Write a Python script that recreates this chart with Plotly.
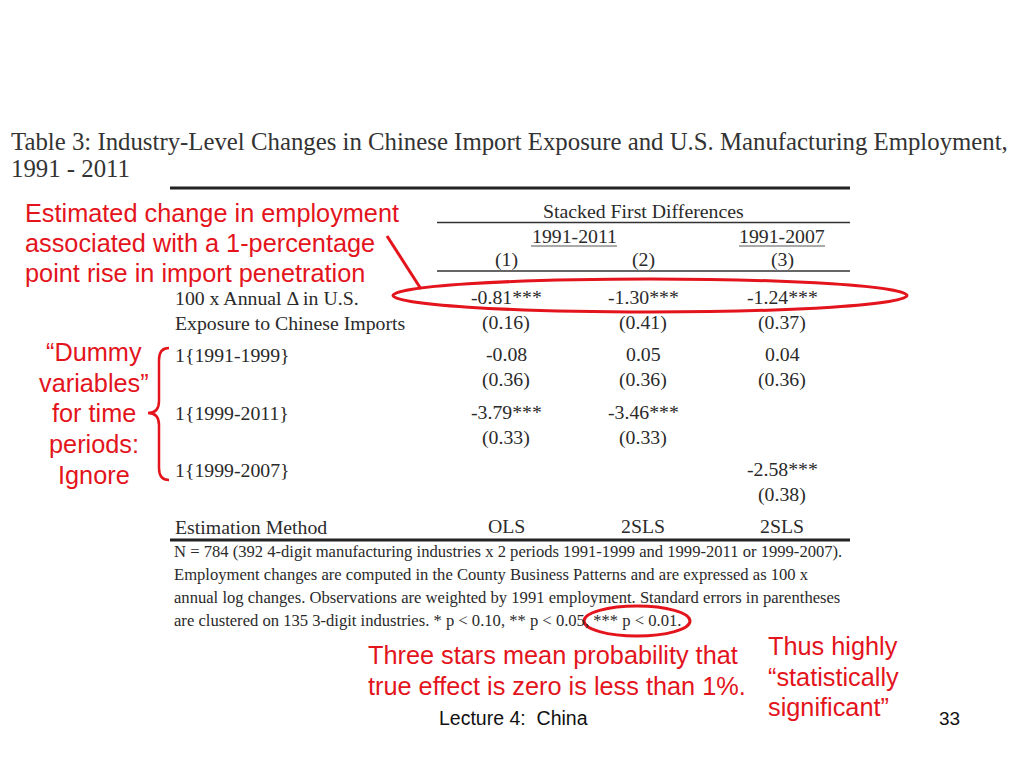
import plotly.graph_objects as go

# ---------------- data ----------------
title_lines = ["Table 3: Industry-Level Changes in Chinese Import Exposure and U.S. Manufacturing Employment,",
               "1991 - 2011"]
header_top = "Stacked First Differences"
period_groups = ["1991-2011", "1991-2007"]
columns = ["(1)", "(2)", "(3)"]
row_labels = ["100 x Annual \u0394 in U.S.", "Exposure to Chinese Imports",
              "1{1991-1999}", "", "1{1999-2011}", "", "1{1999-2007}", "",
              "Estimation Method"]
coef_import = ["-0.81***", "-1.30***", "-1.24***"]
se_import = ["(0.16)", "(0.41)", "(0.37)"]
coef_9199 = ["-0.08", "0.05", "0.04"]
se_9199 = ["(0.36)", "(0.36)", "(0.36)"]
coef_9911 = ["-3.79***", "-3.46***", ""]
se_9911 = ["(0.33)", "(0.33)", ""]
coef_9907 = ["", "", "-2.58***"]
se_9907 = ["", "", "(0.38)"]
methods = ["OLS", "2SLS", "2SLS"]
notes = ["N = 784 (392 4-digit manufacturing industries x 2 periods 1991-1999 and 1999-2011 or 1999-2007).",
         "Employment changes are computed in the County Business Patterns and are expressed as 100 x",
         "annual log changes. Observations are weighted by 1991 employment. Standard errors in parentheses",
         "are clustered on 135 3-digit industries. * p < 0.10, ** p < 0.05, *** p < 0.01."]
callout_top = ["Estimated change in employment", "associated with a 1-percentage",
               "point rise in import penetration"]
callout_left = ["\u201cDummy", "variables\u201d", "for time", "periods:", "Ignore"]
callout_bottom = ["Three stars mean probability that", "true effect is zero is less than 1%."]
callout_right = ["Thus highly", "\u201cstatistically", "significant\u201d"]
footer = "Lecture 4:\u00a0\u00a0China"
page_no = "33"

# ---------------- layout ----------------
RED = "#e3141c"
INK = "#2a2a2a"
SERIF = "Liberation Serif"
SANS = "Liberation Sans"

col_x = [506, 643, 782]
row_y = [297, 322, 354, 379, 412, 437, 469, 494, 526]
table_rows = [coef_import, se_import, coef_9199, se_9199, coef_9911, se_9911,
              coef_9907, se_9907, methods]

fig = go.Figure()
ann = []

def txt(x, y, s, size, color=INK, font=SERIF, xanchor="left"):
    ann.append(dict(x=x, y=y, text=s, showarrow=False, xanchor=xanchor, yanchor="middle",
                    font=dict(size=size, color=color, family=font), xref="x", yref="y"))

BODY = 19.8

# title
txt(8.5, 141, title_lines[0], 24.8, "#333333")
txt(8.5, 168, title_lines[1], 24.8, "#333333")

# header
txt(643, 211, header_top, BODY, xanchor="center")
for lab, cx in zip(period_groups, [574, 782]):
    txt(cx, 236, lab, BODY, xanchor="center")
for lab, cx in zip(columns, col_x):
    txt(cx, 259, lab, BODY, xanchor="center")

# body
for lab, ry in zip(row_labels, row_y):
    if lab:
        txt(173, ry + 1, lab, BODY)
for vals, ry in zip(table_rows, row_y):
    for v, cx in zip(vals, col_x):
        if v:
            txt(cx, ry, v, BODY, xanchor="center")

# notes
for i, line in enumerate(notes):
    txt(172, 551 + i * 23.2, line, 16.6)

# red callouts
RS = 25.3
for i, line in enumerate(callout_top):
    txt(23, 213 + i * 29.8, line, RS, RED, SANS)
for i, line in enumerate(callout_left):
    txt(94, 352 + i * 30.7, line, RS, RED, SANS, xanchor="center")
for i, line in enumerate(callout_bottom):
    txt(366, 655 + i * 31, line, RS, RED, SANS)
for i, line in enumerate(callout_right):
    txt(766, 646 + i * 30.5, line, RS, RED, SANS)

txt(437, 718, footer, 19.5, "#111111", SANS)
txt(962, 718, page_no, 19, "#111111", SANS, xanchor="right")

shapes = [
    dict(type="line", x0=170, x1=850, y0=188, y1=188, line=dict(color="#222", width=3)),
    dict(type="line", x0=437, x1=850, y0=222.5, y1=222.5, line=dict(color="#333", width=1.5)),
    dict(type="line", x0=531, x1=617, y0=246, y1=246, line=dict(color="#555", width=1)),
    dict(type="line", x0=739, x1=825, y0=246, y1=246, line=dict(color="#555", width=1)),
    dict(type="line", x0=437, x1=850, y0=271, y1=271, line=dict(color="#333", width=1.5)),
    dict(type="line", x0=170, x1=850, y0=540, y1=540, line=dict(color="#222", width=3)),
    # ellipses
    dict(type="circle", x0=393, x1=907, y0=279, y1=312, line=dict(color=RED, width=3)),
    dict(type="circle", x0=584, x1=690, y0=606, y1=636, line=dict(color=RED, width=3)),
    # arrow line
    dict(type="line", x0=387, x1=421, y0=236, y1=289, line=dict(color=RED, width=3)),
    # brace
    dict(type="path",
         path="M 169 348 Q 159 348 159 360 L 159 401 Q 159 413 148 413 Q 159 413 159 425 L 159 468 Q 159 480 169 480",
         line=dict(color=RED, width=2.5)),
]

# the page body has an 8px margin: shift the axis ranges so data units equal page pixels
OFF = 8
fig.update_layout(
    width=1024, height=768,
    margin=dict(l=0, r=0, t=0, b=0),
    paper_bgcolor="white", plot_bgcolor="white",
    xaxis=dict(range=[OFF, 1024 + OFF], visible=False, fixedrange=True),
    yaxis=dict(range=[768 + OFF, OFF], visible=False, fixedrange=True),
    annotations=ann, shapes=shapes, showlegend=False,
)
fig.write_html("out.html", config={"displayModeBar": False})
